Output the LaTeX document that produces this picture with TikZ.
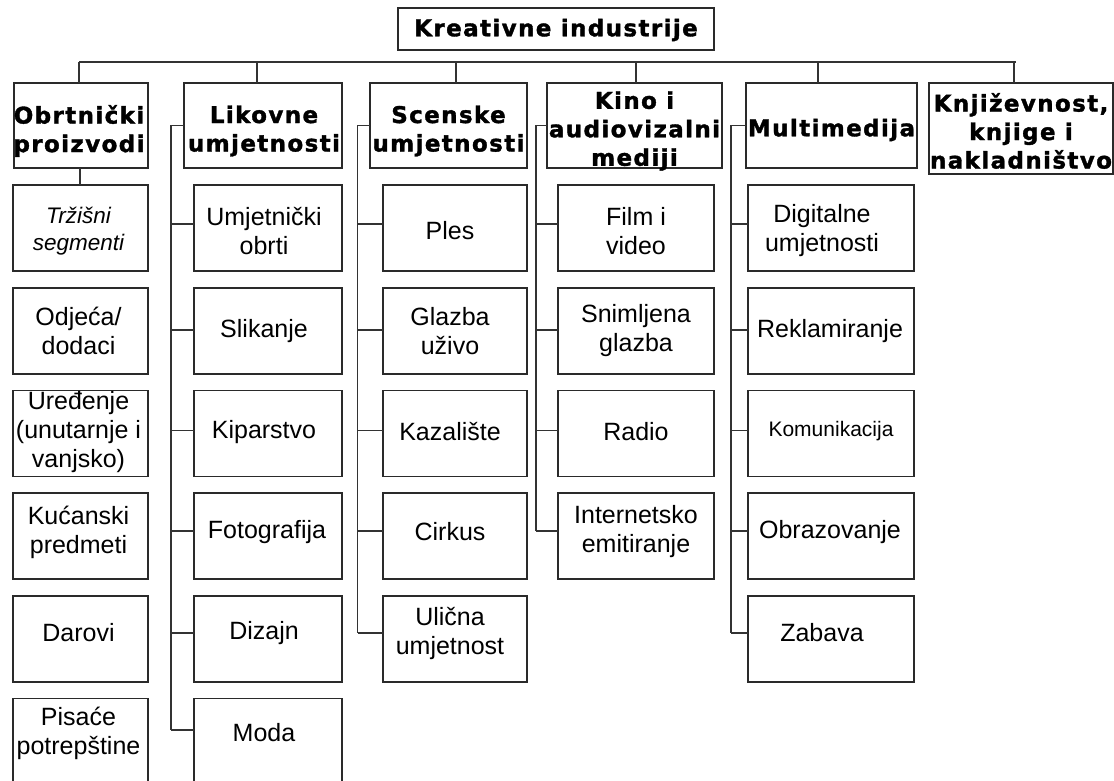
\documentclass[tikz,border=0pt]{standalone}
\usepackage{fontspec}
\setmainfont{Liberation Sans}
\newfontfamily\headfont[LetterSpace=6,FakeBold=1.5]{DejaVu Sans Bold}
\definecolor{boxc}{HTML}{2A2A2A}
\definecolor{linec}{HTML}{333333}
\begin{document}
\begin{tikzpicture}[x=1pt,y=-1pt,
  boxbase/.style={draw=boxc, line width=1.5pt, inner sep=0pt, outer sep=0pt},
  headbox/.style={boxbase, minimum height=85pt},
  subbox/.style={boxbase, minimum height=86pt},
  htext/.style={align=center, inner sep=0pt, font=\headfont\fontsize{23}{28.5}\selectfont},
  stext/.style={align=center, inner sep=0pt, font=\fontsize{25}{29}\selectfont},
  conn/.style={draw=linec, line width=1.2pt}]
\useasboundingbox (0,0) rectangle (1114,780);
\clip (0,0) rectangle (1114,780);

% title
\node[boxbase, minimum width=316pt, minimum height=42pt] (top) at (556,29) {};
\node[htext] (topt) at (556,30) {Kreativne industrije};

% level 1
\node[headbox, minimum width=134pt] (h1) at (81,125.5) {};
\node[htext] (h1t) at (79,131) {Obrtnički\\proizvodi};
\node[headbox, minimum width=158pt] (h2) at (263,125.5) {};
\node[htext] (h2t) at (264,131) {Likovne\\umjetnosti};
\node[headbox, minimum width=157pt] (h3) at (448.5,125.5) {};
\node[htext] (h3t) at (448.5,131) {Scenske\\umjetnosti};
\node[headbox, minimum width=175pt] (h4) at (634.5,125.5) {};
\node[htext] (h4t) at (634.5,131) {Kino i\\audiovizalni\\mediji};
\node[headbox, minimum width=171pt] (h5) at (831.5,125.5) {};
\node[htext] (h5t) at (831.5,130) {Multimedija};
\node[headbox, minimum width=184pt, minimum height=91pt] (h6) at (1021,128.5) {};
\node[htext] (h6t) at (1021,131) {Književnost,\\knjige i\\nakladništvo};

% bus
\coordinate (busL) at (79,62);
\coordinate (busR) at (1016,62);
\draw[conn] (busL) -- (busR);
\foreach \x/\n in {79/h1,257/h2,456/h3,636/h4,818/h5,1014/h6}{
  \coordinate (d\n) at (\x,62);
  \draw[conn] (d\n) -- (d\n |- \n.north);
}

% column 1
\node[subbox, minimum width=135pt] (s11) at (80.5,228) {};
\node[subbox, minimum width=135pt] (s12) at (80.5,331.2) {};
\node[subbox, minimum width=135pt] (s13) at (80.5,433.7) {};
\node[subbox, minimum width=135pt] (s14) at (80.5,535.8) {};
\node[subbox, minimum width=135pt] (s15) at (80.5,638.8) {};
\node[subbox, minimum width=135pt] (s16) at (80.5,741.5) {};
\node[stext, font=\itshape\fontsize{22.5}{27}\selectfont] (s11t) at (78.5,231) {Tržišni\\segmenti};
\node[stext] (s12t) at (78.5,331) {Odjeća/\\dodaci};
\node[stext] (s13t) at (78.5,432.5) {Uređenje\\(unutarnje i\\vanjsko)};
\node[stext] (s14t) at (78.5,532) {Kućanski\\predmeti};
\node[stext] (s15t) at (78.5,633) {Darovi};
\node[stext] (s16t) at (78.5,733) {Pisaće\\potrepštine};
\draw[conn] ([xshift=-1pt]h1.south) -- ([xshift=-1pt]h1.south |- s11.north);

% column 2
\node[subbox, minimum width=148pt] (s21) at (268,228) {};
\node[subbox, minimum width=148pt] (s22) at (268,331.2) {};
\node[subbox, minimum width=148pt] (s23) at (268,433.7) {};
\node[subbox, minimum width=148pt] (s24) at (268,535.8) {};
\node[subbox, minimum width=148pt] (s25) at (268,638.8) {};
\node[subbox, minimum width=148pt] (s26) at (268,741.5) {};
\node[stext] (s21t) at (264,231) {Umjetnički\\obrti};
\node[stext] (s22t) at (264,331) {Slikanje};
\node[stext] (s23t) at (264,432) {Kiparstvo};
\node[stext] (s24t) at (267,532) {Fotografija};
\node[stext] (s25t) at (264,633) {Dizajn};
\node[stext] (s26t) at (264,733) {Moda};
\draw[conn] (h2.west) -- ++(-13,0) coordinate (t2) -- (t2 |- 0,730);
\foreach \y/\n in {224/s21,330/s22,430.5/s23,531/s24,633/s25,730/s26}
  \draw[conn] (t2 |- 0,\y) -- (\n.west |- 0,\y);

% column 3
\node[subbox, minimum width=144pt] (s31) at (455,228) {};
\node[subbox, minimum width=144pt] (s32) at (455,331.2) {};
\node[subbox, minimum width=144pt] (s33) at (455,433.7) {};
\node[subbox, minimum width=144pt] (s34) at (455,535.8) {};
\node[subbox, minimum width=144pt] (s35) at (455,638.8) {};
\node[stext] (s31t) at (450,231) {Ples};
\node[stext] (s32t) at (450,331) {Glazba\\uživo};
\node[stext] (s33t) at (450,432) {Kazalište};
\node[stext] (s34t) at (450,532) {Cirkus};
\node[stext] (s35t) at (450,633) {Ulična\\umjetnost};
\draw[conn] (h3.west) -- ++(-12.5,0) coordinate (t3) -- (t3 |- 0,633);
\foreach \y/\n in {224/s31,330/s32,430.5/s33,531/s34,633/s35}
  \draw[conn] (t3 |- 0,\y) -- (\n.west |- 0,\y);

% column 4
\node[subbox, minimum width=156pt] (s41) at (636,228) {};
\node[subbox, minimum width=156pt] (s42) at (636,331.2) {};
\node[subbox, minimum width=156pt] (s43) at (636,433.7) {};
\node[subbox, minimum width=156pt] (s44) at (636,535.8) {};
\node[stext] (s41t) at (636,231) {Film i\\video};
\node[stext] (s42t) at (636,331) {Snimljena\\glazba};
\node[stext] (s43t) at (636,432) {Radio};
\node[stext] (s44t) at (636,532) {Internetsko\\emitiranje};
\draw[conn] (h4.west) -- ++(-11,0) coordinate (t4) -- (t4 |- 0,531);
\foreach \y/\n in {224/s41,330/s42,430.5/s43,531/s44}
  \draw[conn] (t4 |- 0,\y) -- (\n.west |- 0,\y);

% column 5
\node[subbox, minimum width=166pt] (s51) at (831,228) {};
\node[subbox, minimum width=166pt] (s52) at (831,331.2) {};
\node[subbox, minimum width=166pt] (s53) at (831,433.7) {};
\node[subbox, minimum width=166pt] (s54) at (831,535.8) {};
\node[subbox, minimum width=166pt] (s55) at (831,638.8) {};
\node[stext] (s51t) at (822,231) {Digitalne\\umjetnosti};
\node[stext] (s52t) at (830,331) {Reklamiranje};
\node[stext, font=\fontsize{21}{25}\selectfont] (s53t) at (831,431) {Komunikacija};
\node[stext] (s54t) at (830,532) {Obrazovanje};
\node[stext] (s55t) at (822,633) {Zabava};
\draw[conn] (h5.west) -- ++(-15,0) coordinate (t5) -- (t5 |- 0,633);
\foreach \y/\n in {224/s51,330/s52,430.5/s53,531/s54,633/s55}
  \draw[conn] (t5 |- 0,\y) -- (\n.west |- 0,\y);
\end{tikzpicture}
\end{document}
